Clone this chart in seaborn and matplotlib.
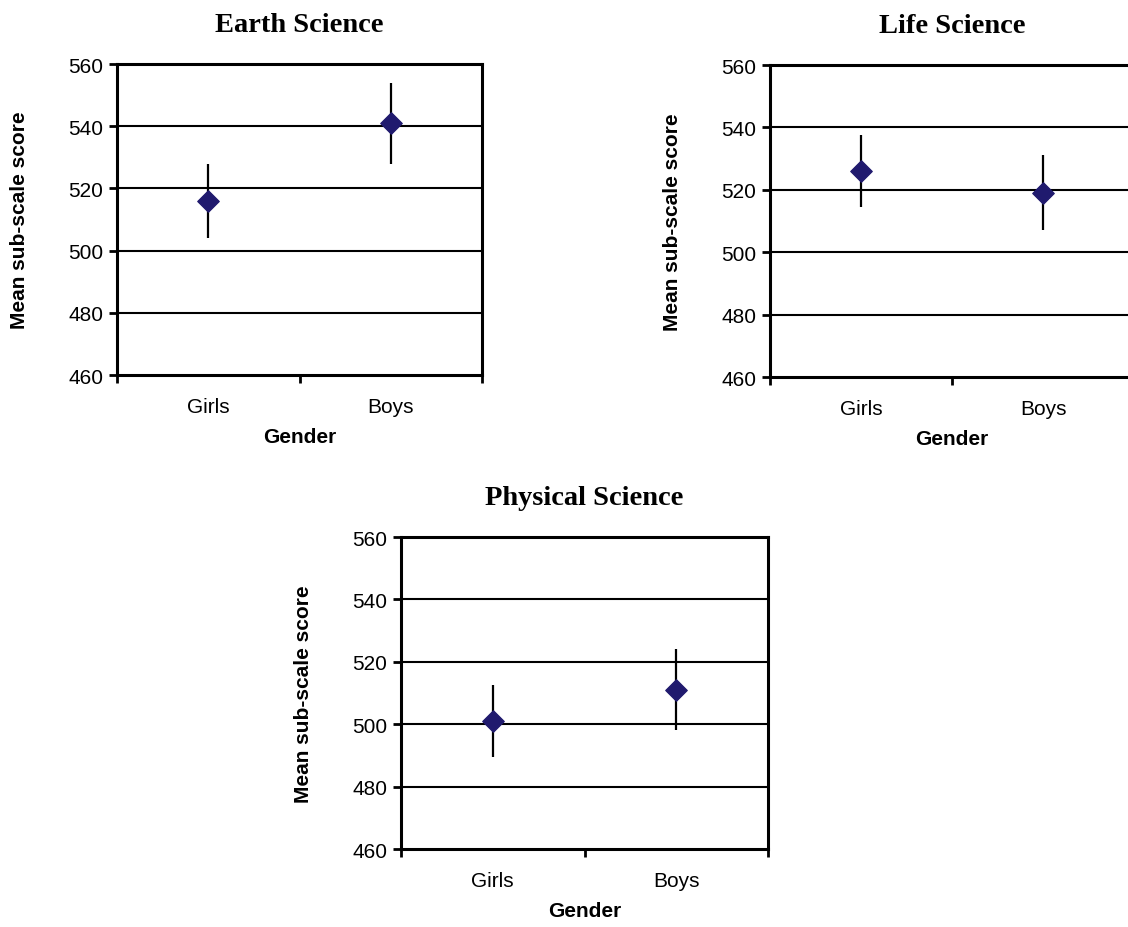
import numpy as np
import pandas as pd
import seaborn as sns
import matplotlib
matplotlib.use('Agg')
import matplotlib.pyplot as plt

sns.set_style('white')
plt.rcParams['font.family'] = ['Liberation Sans', 'DejaVu Sans']
plt.rcParams['text.color'] = 'black'
plt.rcParams['axes.labelcolor'] = 'black'
plt.rcParams['xtick.color'] = 'black'
plt.rcParams['ytick.color'] = 'black'

# 数据：各分量表的平均分和误差范围
genders = ['Girls', 'Boys']
subjects = ['Earth Science', 'Life Science', 'Physical Science']
earth_mean = [516, 541]
earth_err = [12, 13]
life_mean = [526, 519]
life_err = [11.5, 12]
phys_mean = [501, 511]
phys_err = [11.5, 13]

means = [earth_mean, life_mean, phys_mean]
errs = [earth_err, life_err, phys_err]

# 子图位置（与原图一致）
positions = [
    [117 / 1128, (928 - 376) / 928, 365 / 1128, 311 / 928],
    [770 / 1128, (928 - 378) / 928, 364 / 1128, 312 / 928],
    [401 / 1128, (928 - 850) / 928, 367 / 1128, 312 / 928],
]

fig = plt.figure(figsize=(11.28, 9.28), dpi=100)

for subj, m, e, pos in zip(subjects, means, errs, positions):
    ax = fig.add_axes(pos)
    df = pd.DataFrame({'Gender': genders, 'score': m, 'err': e})
    df['x'] = np.arange(len(genders)) + 0.5

    # 横向网格线
    for y in [480, 500, 520, 540]:
        ax.axhline(y, color='black', lw=1.5, zorder=1)

    ax.errorbar(df['x'], df['score'], yerr=df['err'], fmt='none',
                ecolor='black', elinewidth=1.6, capsize=0, zorder=2)
    sns.scatterplot(data=df, x='x', y='score', marker='D', s=120,
                    color='#201a6e', edgecolor='#201a6e', zorder=3, ax=ax)

    ax.set_xlim(0, 2)
    ax.set_ylim(460, 560)
    ax.set_yticks([460, 480, 500, 520, 540, 560])
    ax.set_xticks([0, 1, 2])
    ax.set_xticklabels([])
    ax.set_xticks(df['x'], minor=True)
    ax.set_xticklabels(genders, minor=True, fontsize=15)
    ax.tick_params(axis='x', which='minor', bottom=False, length=0, pad=16)
    ax.tick_params(axis='x', which='major', bottom=True, direction='out',
                   length=6, width=2)
    ax.tick_params(axis='y', direction='out', length=6, width=2,
                   labelsize=15, pad=4, left=True)

    for s in ax.spines.values():
        s.set_color('black')
        s.set_linewidth(2.2)

    ax.set_xlabel('Gender', fontsize=15, fontweight='bold', labelpad=8)
    ax.set_ylabel('Mean sub-scale score', fontsize=15, fontweight='bold', labelpad=28)
    ax.set_title(subj, fontsize=20.5, fontweight='bold', family='Liberation Serif', pad=24)

fig.savefig('out.png', dpi=100)
